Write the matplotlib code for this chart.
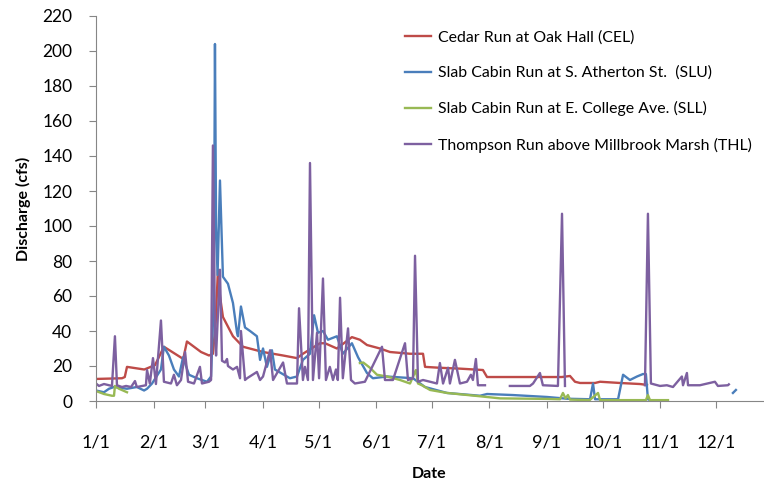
import matplotlib.pyplot as plt
import numpy as np

plt.rcParams['font.family'] = ['Lato', 'DejaVu Sans']

# day of year (0 = Jan 1) and discharge in cfs; nan = gap
cel_day = [0, 14, 15.5, 16.7, 26, 31.8, 36.6, 46.3, 47, 49, 56.6, 60.9, 63, 64.5, 65.7, 66.8,
           68.4, 73.8, 79.2, 90, 100.8, 108.3, 111.5, 120.7, 123.4, 129.8, 137.9, 142.2, 146,
           153, 158.4, 169.2, 176.2, 177.3, 185, 196, 208.5, 210.7, 251, 255.4, 258.1, 260.8,
           268.9, 271.6, 282.3, 293.1, 296.9]
cel_q = [12.6, 13, 13.7, 19.5, 18, 20.5, 31, 24.5, 24, 34, 28, 26, 27, 45, 75, 60,
         48, 37, 31, 28, 26, 24.5, 27, 33, 33, 30, 36.5, 35, 32,
         30, 28, 27, 27, 19.5, 19, 18.5, 17.7, 13.7, 13.7, 14.3, 11, 10.3,
         10.3, 11, 10.3, 9.7, 9.2]

slu_day = [0, 4.3, 7, 9.7, 16.7, 22, 25.9, 27.5, 30.2, 35, 36.6, 39.3, 42, 44.7, 46.9, 50.1,
           54.4, 59.8, 62, 63.5, 64.1, 64.7, 65.5, 66.8, 68.4, 71.1, 73.8, 76, 76.5, 78.1,
           80.3, 83, 86.7, 88.4, 90, 92.1, 94.8, 96.4, 104.5, 108.3, 111.5, 115.3, 117.5,
           119.6, 122.3, 125, 129.8, 133, 137.9, 141.2, 146, 149.2, 156.8, 170.8, 177.3,
           189.1, 206.9, 210.7, 224.7, 243, 253.8, 266.2, 267.8, 268.9, 281.3, 284, 287.7,
           291.5, 294.7, 296.3, 297.4, 298.5, 320, 343.2, 344.8]
slu_q = [6, 5, 7, 8, 7, 8, 6, 7, 10, 18, 31, 26, 18, 14, 25, 15,
         13, 11, 14, 60, 204, 100, 72, 126, 71, 67, 56, 39, 37, 54,
         42, 40, 37, 23.5, 30, 19.5, 29, 18, 13, 14, 23.5, 27, 49,
         39, 40, 35, 37, 27, 33, 25, 16, 13, 14, 13, 8,
         4.6, 3, 4, 3.4, 2.3, 1.3, 1, 10, 1, 1, 15, 12,
         14, 15.4, 15.4, 1, 0.5, np.nan, 4.6, 6.3]

sll_day = [0, 4.3, 8.6, 9.7, 10.2, 12.4, 16.7, 80, 142.2, 144, 147.6, 151.4, 156.8, 163.8,
           169.2, 171.9, 172.4, 173.5, 175.6, 180, 189.1, 206.9, 217.7, 243, 250, 251.6,
           253, 254.3, 255.4, 266, 270.5, 271.6, 296.3, 297.4, 298.5, 308.2]
sll_q = [5.7, 4, 3, 3, 8.6, 7, 5, np.nan, 21.7, 22, 19, 15, 14, 12,
         10, 16.5, 17.7, 10, 9, 6.3, 4.6, 2.7, 1.5, 1.2, 1, 4.6,
         1.5, 3.4, 0.8, 0.5, 4.6, 0.5, 0.5, 3.4, 0.5, 0.5]

thl_day = [0, 1.6, 4.3, 8.6, 10.2, 11.3, 14, 16.2, 18.9, 21, 22, 26.9, 27.5, 29, 30.7, 32.3,
           35, 36.6, 40.4, 42, 43.6, 45.8, 48, 49.6, 52.8, 56, 57.1, 60.9, 62, 63, 64.1,
           64.7, 66.8, 67.9, 69.5, 70.6, 71.1, 73.8, 76, 77.6, 78.1, 80.3, 81.4, 86.7, 88.4,
           90, 93.8, 95.4, 100.8, 102.9, 108.3, 109.4, 111.5, 112.6, 114.2, 115.3, 116.9,
           119.1, 120.2, 122.3, 123.9, 126, 127.7, 129.3, 130.3, 131.5, 133, 135.8, 137.4,
           139.5, 144.9, 154.1, 155.7, 160, 166.5, 168.1, 170.8, 171.9, 173.5, 176.2, 180,
           183.7, 185.3, 187, 189.7, 190.7, 193.4, 196.1, 199.9, 202, 203.1, 204.7, 205.8,
           209.6, 216, 223, 233.8, 235.5, 239.2, 240.8, 248.9, 251.1, 252.7, 270, 295.8,
           297.4, 299, 303.9, 307.6, 310.9, 315.7, 316.3, 318.4, 319, 325.4, 333.5, 335.1,
           340.5, 341]
thl_q = [10, 8.6, 9.7, 8.6, 37, 9, 8, 8.6, 8, 11.4, 8, 9, 17.7, 10, 24.5, 9.7,
         46, 11, 10, 15, 9, 12, 28, 11, 10, 19.5, 10, 11, 12, 146, 40,
         26, 75, 23, 22, 24, 20, 18, 19.5, 13, 40, 12, 13, 16.6, 12,
         14, 29, 12, 22, 10, 10, 53, 12, 19.5, 12, 136, 12,
         39, 13, 70, 12, 19.5, 12, 18, 12, 59, 13, 41.5, 12,
         10, 11, 31, 12, 12, 33, 12, 13, 83, 11, 12, 11,
         10, 21.7, 10, 19, 10, 23.5, 10, 11, 15, 12, 24, 9,
         9, np.nan, 8.6, 8.6, 10, 16, 9, 8.6, 107, 8.6, np.nan, 9,
         107, 10, 8.6, 9, 8, 14, 9, 16, 9, 9, 11, 8.6,
         9, 9.5]

series = [
    (cel_day, cel_q, '#BE4B48', 'Cedar Run at Oak Hall (CEL)'),
    (slu_day, slu_q, '#4A7EBB', 'Slab Cabin Run at S. Atherton St.  (SLU)'),
    (sll_day, sll_q, '#98B954', 'Slab Cabin Run at E. College Ave. (SLL)'),
    (thl_day, thl_q, '#7D60A0', 'Thompson Run above Millbrook Marsh (THL)'),
]

month_start = [0, 31, 59, 90, 120, 151, 181, 212, 243, 273, 304, 334]
month_labels = ['1/1', '2/1', '3/1', '4/1', '5/1', '6/1', '7/1', '8/1', '9/1', '10/1', '11/1', '12/1']

fig = plt.figure(figsize=(7.64, 4.82), dpi=100)
ax = fig.add_axes([96 / 764, 81 / 482, 667 / 764, 385 / 482])

for d, q, c, lab in series:
    ax.plot(d, q, color=c, lw=1.7, label=lab, solid_joinstyle='round')

ax.set_xlim(0, 359.4)
ax.set_ylim(0, 220)
ax.set_yticks(range(0, 221, 20))
ax.set_xticks(month_start)
ax.set_xticklabels(month_labels)

for s in ['top', 'right']:
    ax.spines[s].set_visible(False)
for s in ['left', 'bottom']:
    ax.spines[s].set_color('#868686')
ax.tick_params(axis='both', colors='#868686', length=5, labelcolor='black')
ax.tick_params(axis='y', labelsize=12.5, pad=12)
ax.tick_params(axis='x', labelsize=13, pad=19)

ax.set_xlabel('Date', fontsize=11.5, fontweight='bold', labelpad=12)
ax.set_ylabel('Discharge (cfs)', fontsize=11.5, fontweight='bold', labelpad=8)

ax.legend(loc='upper left', bbox_to_anchor=(405 / 764, 1 - 30 / 482), bbox_transform=fig.transFigure,
          frameon=False, fontsize=11.4, labelspacing=1.35, handlelength=1.65, handletextpad=0.45,
          borderaxespad=0, borderpad=0)

fig.savefig('out.png', dpi=100)
